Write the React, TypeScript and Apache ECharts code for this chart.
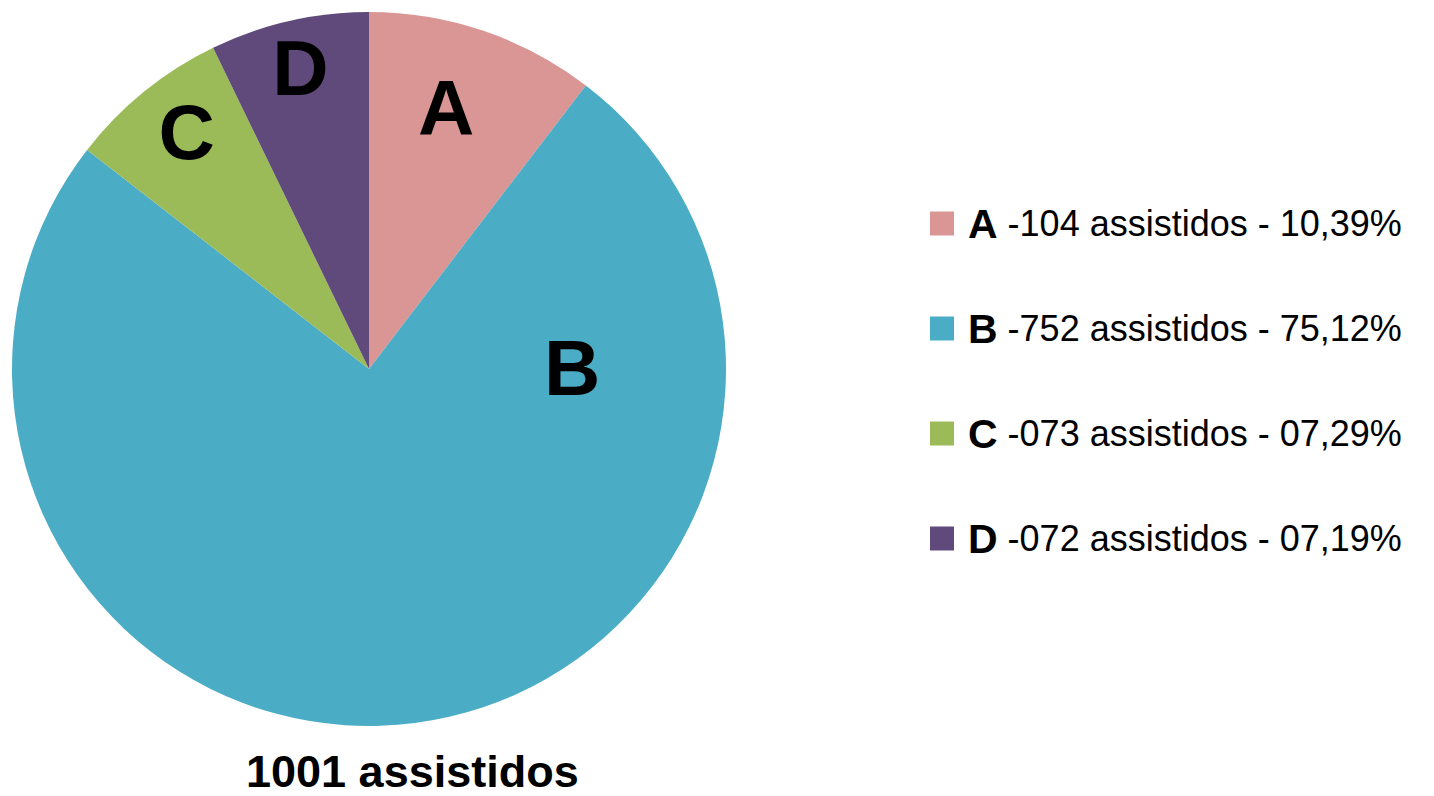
import React, { useEffect, useRef } from "react";
import * as echarts from "echarts";

const categories = ["A", "B", "C", "D"];
const counts = [104, 752, 73, 72];
const colors = ["#D99694", "#4BACC6", "#9BBB59", "#604A7B"];
const totalLabel = "1001 assistidos";
// label nudges relative to the default inner position (style only)
const labelOffsets = [
  [19, -89],
  [180, -181],
  [-68, -96],
  [-28, -124],
];

const total = counts.reduce((a, b) => a + b, 0);
const pad = (n: number) => String(n).padStart(3, "0");
const pct = (n: number) => {
  const p = ((n / total) * 100).toFixed(2).replace(".", ",");
  return p.padStart(5, "0");
};

export default function App() {
  const ref = useRef<HTMLDivElement>(null);
  useEffect(() => {
    if (!ref.current) return;
    const chart = echarts.init(ref.current, undefined, { renderer: "svg" });
    chart.setOption({
      animation: false,
      backgroundColor: "#ffffff",
      title: {
        text: totalLabel,
        left: 246,
        top: 749,
        padding: 0,
        textStyle: {
          fontFamily: "Liberation Sans, Arial, sans-serif",
          fontWeight: "bold",
          fontSize: 45,
          lineHeight: 44,
          color: "#000",
        },
      },
      legend: {
        orient: "vertical",
        left: 925,
        top: 198,
        itemWidth: 24,
        itemHeight: 24,
        itemGap: 64,
        icon: "rect",
        data: categories,
        selectedMode: false,
        formatter: (name: string) => {
          const i = categories.indexOf(name);
          return `{b|${name}}{n| -${pad(counts[i])} assistidos - ${pct(counts[i])}%}`;
        },
        textStyle: {
          rich: {
            b: {
              fontFamily: "Liberation Sans, Arial, sans-serif",
              fontWeight: "bold",
              fontSize: 41,
              lineHeight: 40,
              color: "#000",
              padding: [0, 0, 0, 9],
            },
            n: {
              fontFamily: "Liberation Sans, Arial, sans-serif",
              fontSize: 36,
              lineHeight: 40,
              color: "#000",
            },
          },
        },
      },
      series: [
        {
          type: "pie",
          center: [369, 369],
          radius: [0, 357],
          startAngle: 90,
          clockwise: true,
          silent: true,
          itemStyle: { borderWidth: 0 },
          label: {
            show: true,
            position: "inner",
            formatter: "{b}",
            fontFamily: "Liberation Sans, Arial, sans-serif",
            fontWeight: "bold",
            fontSize: 78,
            color: "#000",
          },
          labelLine: { show: false },
          labelLayout: (params: any) => ({
            dx: labelOffsets[params.dataIndex][0],
            dy: labelOffsets[params.dataIndex][1],
          }),
          data: categories.map((c, i) => ({
            name: c,
            value: counts[i],
            itemStyle: { color: colors[i] },
          })),
        },
      ],
    });
    return () => chart.dispose();
  }, []);
  return (
    <div
      ref={ref}
      style={{ position: "fixed", left: 0, top: 0, width: 1434, height: 796 }}
    />
  );
}
